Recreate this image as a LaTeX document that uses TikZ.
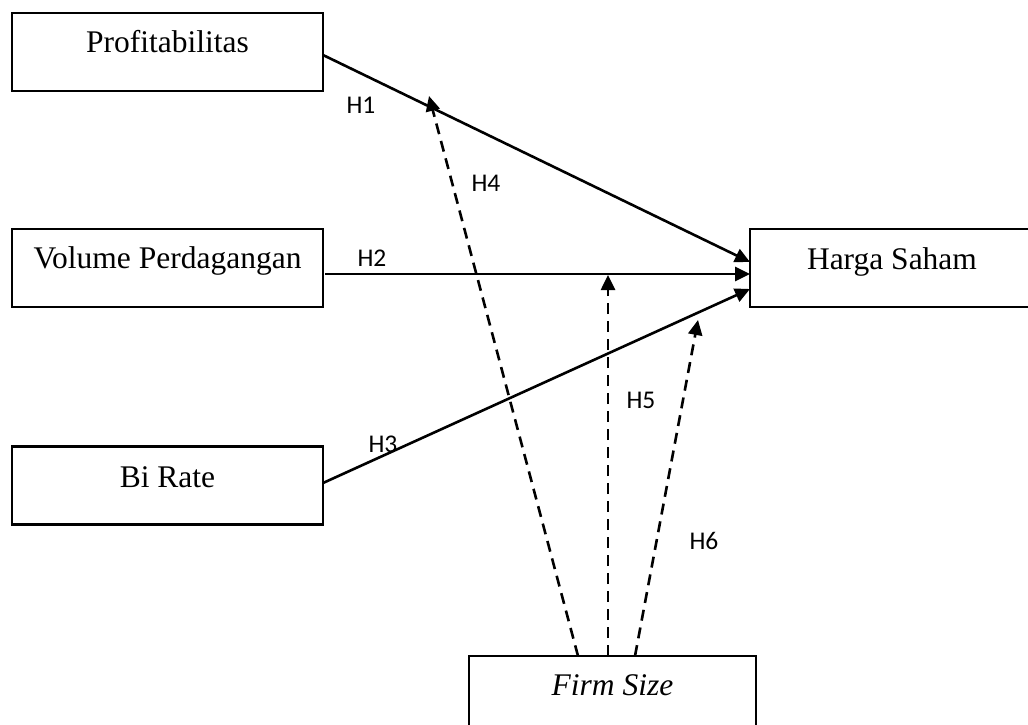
\documentclass[tikz,border=0pt]{standalone}
\usepackage{fontspec}
\setmainfont{Liberation Serif}
\newfontfamily\lblfont{Carlito}
\usetikzlibrary{arrows.meta}
\begin{document}
\begin{tikzpicture}[x=1pt,y=-1pt,
  box/.style={draw,line width=2.2pt,minimum height=78pt,inner sep=0pt,outer sep=0pt},
  boxtext/.style={anchor=base,inner sep=0pt,font=\fontsize{31.5}{36}\selectfont},
  hlabel/.style={inner sep=0pt,font=\lblfont\fontsize{25.5}{30}\selectfont},
  link/.style={line width=2.6pt,-{Triangle[length=15pt,width=14pt]}},
  modlink/.style={link,dash pattern=on 11pt off 7pt},
]
\useasboundingbox (0,0) rectangle (1028,725);
\clip (0,0) rectangle (1028,725);

% boxes
\node[box,minimum width=311pt] (prof)  at (167.5,52)   {};
\node[box,minimum width=311pt] (vol)   at (167.5,268)  {};
\node[box,minimum width=311pt] (bi)    at (167.5,485.5){};
\node[box,minimum width=284pt] (harga) at (892,268)    {};
\node[box,minimum width=287pt] (firm)  at (612.5,695)  {};

% box texts
\node[boxtext] (proft)  at (167.5,53)  {Profitabilitas};
\node[boxtext] (volt)   at (167.5,268) {Volume Perdagangan};
\node[boxtext] (bit)    at (167.5,487) {Bi Rate};
\node[boxtext] (hargat) at (892,269)   {Harga Saham};
\node[boxtext] (firmt)  at (612.5,695) {\itshape Firm Size};

% arrow tips on the paths
\coordinate (h4tip) at (429,96);
\coordinate (h5tip) at (608,275);
\coordinate (h6tip) at (698,320);

% direct effects
\draw[link] ([yshift=-3pt]prof.east) -- ([yshift=6pt]harga.west);
\draw[link] ([xshift=2pt,yshift=-6pt]vol.east) -- ([yshift=-6pt]harga.west);
\draw[link] ([yshift=2.5pt]bi.east) -- ([yshift=-21pt]harga.west);

% moderation
\draw[modlink] ([xshift=-34.5pt]firm.north) -- (h4tip);
\draw[modlink] ([xshift=-4.5pt]firm.north) -- (h5tip);
\draw[modlink] ([xshift=22.5pt]firm.north) -- (h6tip);

% labels
\node[hlabel] (H1) at (361,105) {H1};
\node[hlabel] (H2) at (372,258) {H2};
\node[hlabel] (H3) at (383,444) {H3};
\node[hlabel] (H4) at (486,183) {H4};
\node[hlabel] (H5) at (641,400) {H5};
\node[hlabel] (H6) at (704,541) {H6};
\end{tikzpicture}
\end{document}
